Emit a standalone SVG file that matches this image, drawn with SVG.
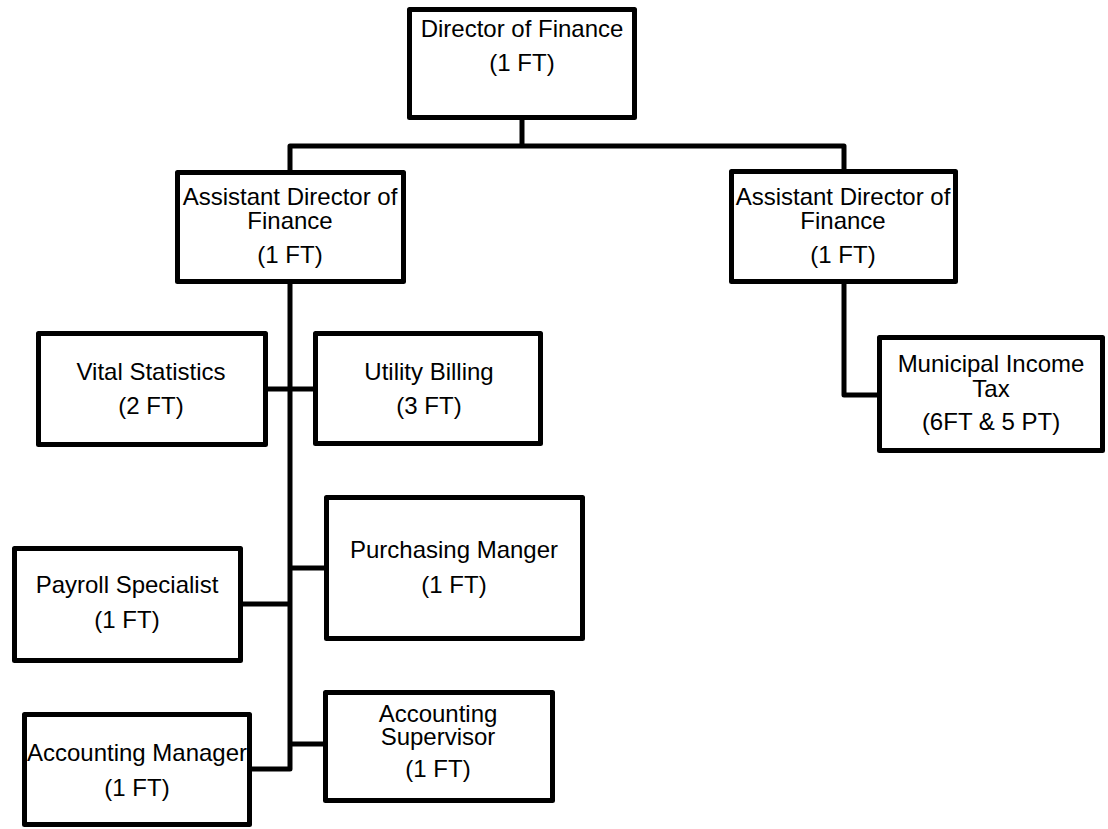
<svg xmlns="http://www.w3.org/2000/svg" width="1108" height="829" viewBox="0 0 1108 829">
  <style>
    .box { fill: #ffffff; stroke: #000000; stroke-width: 5; stroke-linejoin: round; }
    .wire { fill: none; stroke: #000000; stroke-width: 5; stroke-linejoin: round; }
    text { font-family: "Liberation Sans", Arial, sans-serif; font-size: 24px; fill: #000000; text-anchor: middle; }
  </style>
  <rect width="1108" height="829" fill="#ffffff"/>

  <!-- reporting lines -->
  <g id="connectors">
    <path class="wire" d="M522,118 V146"/>
    <path class="wire" d="M290,173 V146 H844 V172"/>
    <path class="wire" d="M290,282 V769 H250"/>
    <path class="wire" d="M266,389 H316"/>
    <path class="wire" d="M241,604 H290"/>
    <path class="wire" d="M290,568 H327"/>
    <path class="wire" d="M290,744 H326"/>
    <path class="wire" d="M844,282 V395 H880"/>
  </g>

  <g id="director">
    <rect class="box" x="409.5" y="9.5" width="225" height="108"/>
    <text x="522" y="37">Director of Finance</text>
    <text x="522" y="71">(1 FT)</text>
  </g>

  <g id="asst-director-left">
    <rect class="box" x="177.5" y="172.5" width="226" height="109"/>
    <text x="290" y="205">Assistant Director of</text>
    <text x="290" y="229">Finance</text>
    <text x="290" y="263">(1 FT)</text>
  </g>

  <g id="asst-director-right">
    <rect class="box" x="731.5" y="171.5" width="224" height="110"/>
    <text x="843" y="205">Assistant Director of</text>
    <text x="843" y="229">Finance</text>
    <text x="843" y="263">(1 FT)</text>
  </g>

  <g id="municipal-income-tax">
    <rect class="box" x="879.5" y="337.5" width="223" height="113"/>
    <text x="991" y="372">Municipal Income</text>
    <text x="991" y="397">Tax</text>
    <text x="991" y="430">(6FT &amp; 5 PT)</text>
  </g>

  <g id="vital-statistics">
    <rect class="box" x="38.5" y="333.5" width="227" height="111"/>
    <text x="151" y="380">Vital Statistics</text>
    <text x="151" y="414">(2 FT)</text>
  </g>

  <g id="utility-billing">
    <rect class="box" x="315.5" y="333.5" width="225" height="110"/>
    <text x="429" y="380">Utility Billing</text>
    <text x="429" y="414">(3 FT)</text>
  </g>

  <g id="purchasing-manager">
    <rect class="box" x="326.5" y="497.5" width="256" height="141"/>
    <text x="454" y="558">Purchasing Manger</text>
    <text x="454" y="593">(1 FT)</text>
  </g>

  <g id="payroll-specialist">
    <rect class="box" x="14.5" y="548.5" width="226" height="112"/>
    <text x="127" y="593">Payroll Specialist</text>
    <text x="127" y="628">(1 FT)</text>
  </g>

  <g id="accounting-manager">
    <rect class="box" x="24.5" y="714.5" width="225" height="110"/>
    <text x="137" y="761">Accounting Manager</text>
    <text x="137" y="796">(1 FT)</text>
  </g>

  <g id="accounting-supervisor">
    <rect class="box" x="325.5" y="692.5" width="227" height="108"/>
    <text x="438" y="722">Accounting</text>
    <text x="438" y="745">Supervisor</text>
    <text x="438" y="777">(1 FT)</text>
  </g>
</svg>
